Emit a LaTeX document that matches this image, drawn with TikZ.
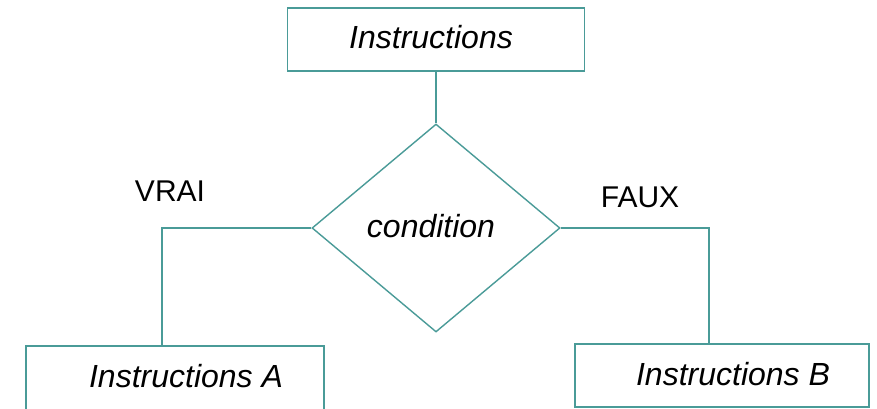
\documentclass[tikz,border=0pt]{standalone}
\usepackage{fontspec}
\setmainfont{Liberation Sans}
\usetikzlibrary{shapes.geometric}
\definecolor{flowline}{RGB}{74,155,152}
\begin{document}
\begin{tikzpicture}[x=1pt,y=-1pt,
  flow/.style={draw=flowline,line width=1.4pt},
  box/.style={flow,rectangle,inner sep=0pt,fill=white},
  decision/.style={flow,diamond,inner sep=0pt,minimum width=248pt,minimum height=208pt},
  itext/.style={font=\fontsize{32}{36}\selectfont\itshape},
  label/.style={font=\fontsize{30}{34}\selectfont}
]
\useasboundingbox[fill=white] (0,0) rectangle (877,408);
% process boxes
\node[box,minimum width=297pt,minimum height=63pt] (top) at (436,39.5) {};
\node[box,minimum width=298pt,minimum height=66pt] (A) at (175,379) {};
\node[box,minimum width=294pt,minimum height=63pt] (B) at (722,375.5) {};
% decision
\node[decision] (cond) at (436,228) {};
% connectors
\draw[flow] (top.south) -- (cond.north);
\draw[flow] (cond.west) -| ([xshift=-13pt]A.north);
\draw[flow] (cond.east) -| ([xshift=-13pt]B.north);
% texts
\node[itext] (ttop) at (431,37) {Instructions};
\node[itext] (tcond) at (431,226) {condition};
\node[itext] (tA) at (186,376) {Instructions A};
\node[itext] (tB) at (733,374) {Instructions B};
\node[label] (vrai) at (170,191) {VRAI};
\node[label] (faux) at (640,197) {FAUX};
\end{tikzpicture}
\end{document}
